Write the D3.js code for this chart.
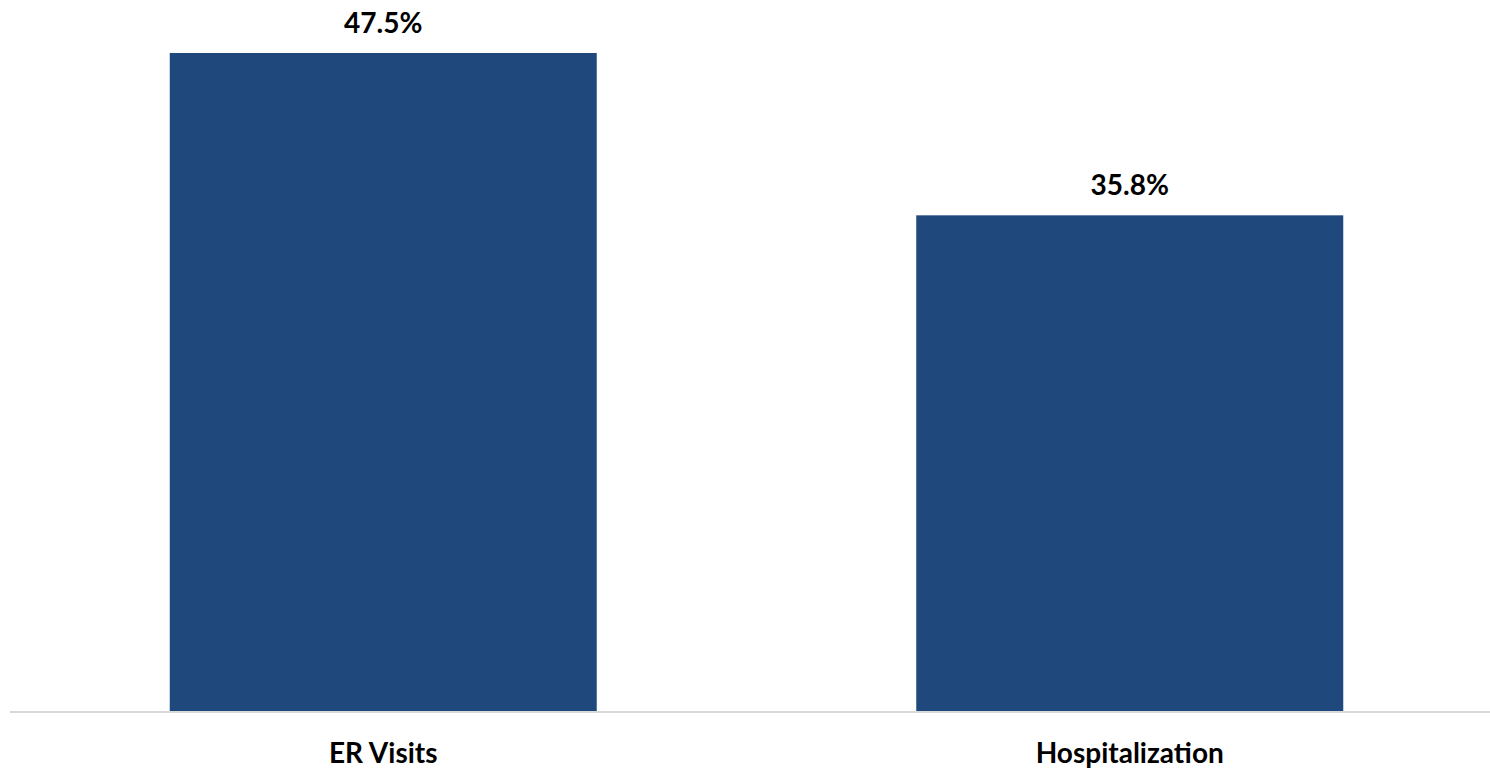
<!DOCTYPE html>
<html>
<head>
<meta charset="utf-8">
<script src="https://cdn.jsdelivr.net/npm/d3@7"></script>
<style>
  body { margin: 0; background: #fff; }
  svg text { font-family: Lato, "Open Sans", sans-serif; font-weight: bold; fill: #000; }
</style>
</head>
<body>
<div id="chart"></div>
<script>
// chart data
var categories = ["ER Visits", "Hospitalization"];
var values = [47.5, 35.8];

var width = 1490,
    height = 769,
    baseline = 712;

var svg = d3.select("#chart")
  .append("svg")
    .attr("width", width)
    .attr("height", height);

// x band scale - bars centred in each step
var x = d3.scaleBand()
  .domain(categories)
  .range([10, 1503])
  .paddingInner(0.428)
  .paddingOuter(0.214);

// y scale from zero at the baseline
var y = d3.scaleLinear()
  .domain([0, 47.5])
  .range([baseline, 53]);

// bars
svg.selectAll("rect.bar")
  .data(values)
  .enter()
  .append("rect")
    .attr("class", "bar")
    .attr("x", function(d, i) { return x(categories[i]); })
    .attr("y", function(d) { return y(d); })
    .attr("width", x.bandwidth())
    .attr("height", function(d) { return baseline - y(d); })
    .style("fill", "#1f497d");

// baseline axis
var axis = svg.append("g")
  .attr("transform", "translate(0," + baseline + ")")
  .call(d3.axisBottom(x).tickSize(0).tickPadding(31));
axis.select(".domain")
  .attr("d", "M10,0H1490")
  .attr("stroke", "#d9d9d9")
  .attr("stroke-width", 2);
axis.selectAll("text")
  .style("font-size", "28px")
  .style("font-family", "Lato, 'Open Sans', sans-serif")
  .style("font-weight", "bold")
  .attr("fill", "#000");

// value labels
svg.selectAll("text.value")
  .data(values)
  .enter()
  .append("text")
    .attr("class", "value")
    .attr("x", function(d, i) { return x(categories[i]) + x.bandwidth() / 2; })
    .attr("y", function(d) { return y(d) - 20; })
    .attr("text-anchor", "middle")
    .style("font-size", "28px")
    .text(function(d) { return d.toFixed(1) + "%"; });
</script>
</body>
</html>
